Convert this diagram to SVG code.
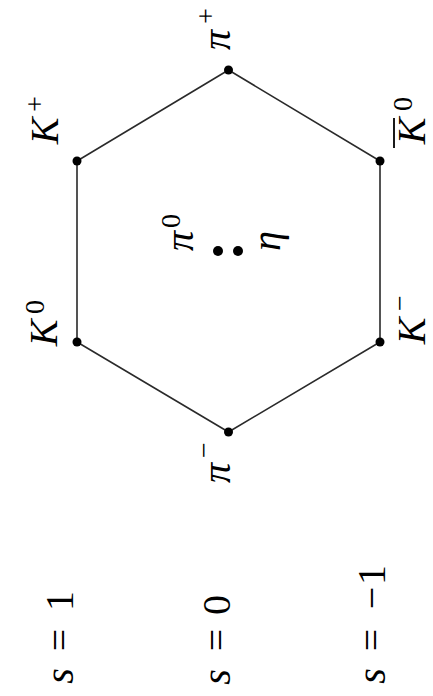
<svg xmlns="http://www.w3.org/2000/svg" width="433" height="696" viewBox="0 0 433 696">
<style>
text{font-family:"Liberation Serif","Times New Roman","DejaVu Serif",serif;font-size:40px;fill:#000;text-anchor:middle}
.i{font-style:italic}
.sup{font-size:28px}
.e{stroke:#2a2a2a;stroke-width:1.6;fill:none}
.v{fill:#000}
</style>
<rect width="433" height="696" fill="#fff"/>
<g id="connectors">
<polygon class="e" points="228.5,70 77,161 77,342 228.5,432 380,342 380,161"/>
</g>
<g id="pi_plus">
<circle class="v" cx="228.5" cy="70" r="4.5"/>
<text class="i" font-family="Liberation Serif, serif" transform="translate(230,40) rotate(-90)">π</text>
<text class="sup" font-family="Liberation Serif, serif" transform="translate(215,16) rotate(-90)">+</text>
</g>
<g id="K_plus">
<circle class="v" cx="77" cy="161" r="4.5"/>
<text class="i" font-family="Liberation Serif, serif" transform="translate(58,131) rotate(-90)">K</text>
<text class="sup" font-family="Liberation Serif, serif" transform="translate(44,104) rotate(-90)">+</text>
</g>
<g id="K_zero">
<circle class="v" cx="77" cy="342" r="4.5"/>
<text class="i" font-family="Liberation Serif, serif" transform="translate(57,333) rotate(-90)">K</text>
<text class="sup" font-family="Liberation Serif, serif" transform="translate(44,307) rotate(-90)">0</text>
</g>
<g id="pi_minus">
<circle class="v" cx="228.5" cy="432" r="4.5"/>
<text class="i" font-family="Liberation Serif, serif" transform="translate(230,473) rotate(-90)">π</text>
<text class="sup" font-family="Liberation Serif, serif" transform="translate(213,450) rotate(-90)">−</text>
</g>
<g id="K_minus">
<circle class="v" cx="380" cy="342" r="4.5"/>
<text class="i" font-family="Liberation Serif, serif" transform="translate(425,331) rotate(-90)">K</text>
<text class="sup" font-family="Liberation Serif, serif" transform="translate(409,303) rotate(-90)">−</text>
</g>
<g id="K_bar_zero">
<circle class="v" cx="380" cy="161" r="4.5"/>
<text class="i" font-family="Liberation Serif, serif" transform="translate(425,131) rotate(-90)">K</text>
<line x1="394" y1="118" x2="394" y2="148" stroke="#000" stroke-width="1.8"/>
<text class="sup" font-family="Liberation Serif, serif" transform="translate(412,104) rotate(-90)">0</text>
</g>
<g id="pi_zero">
<circle class="v" cx="218" cy="251" r="5"/>
<text class="i" font-family="Liberation Serif, serif" transform="translate(193,241) rotate(-90)">π</text>
<text class="sup" font-family="Liberation Serif, serif" transform="translate(180,221) rotate(-90)">0</text>
</g>
<g id="eta">
<circle class="v" cx="238" cy="251" r="5"/>
<text class="i" font-family="Liberation Serif, serif" transform="translate(280,241) rotate(-90)">η</text>
</g>
<g id="s_1">
<text class="i" font-family="Liberation Serif, serif" transform="translate(73,676) rotate(-90)">s</text>
<text font-family="Liberation Serif, serif" transform="translate(73,640) rotate(-90)">=</text>
<text font-family="Liberation Serif, serif" transform="translate(73,601) rotate(-90)">1</text>
</g>
<g id="s_0">
<text class="i" font-family="Liberation Serif, serif" transform="translate(230,677) rotate(-90)">s</text>
<text font-family="Liberation Serif, serif" transform="translate(230,640) rotate(-90)">=</text>
<text font-family="Liberation Serif, serif" transform="translate(230,605) rotate(-90)">0</text>
</g>
<g id="s_m1">
<text class="i" font-family="Liberation Serif, serif" transform="translate(385,676) rotate(-90)">s</text>
<text font-family="Liberation Serif, serif" transform="translate(385,640) rotate(-90)">=</text>
<text font-family="Liberation Serif, serif" transform="translate(385,598) rotate(-90)">−</text>
<text font-family="Liberation Serif, serif" transform="translate(385,575) rotate(-90)">1</text>
</g>
</svg>
